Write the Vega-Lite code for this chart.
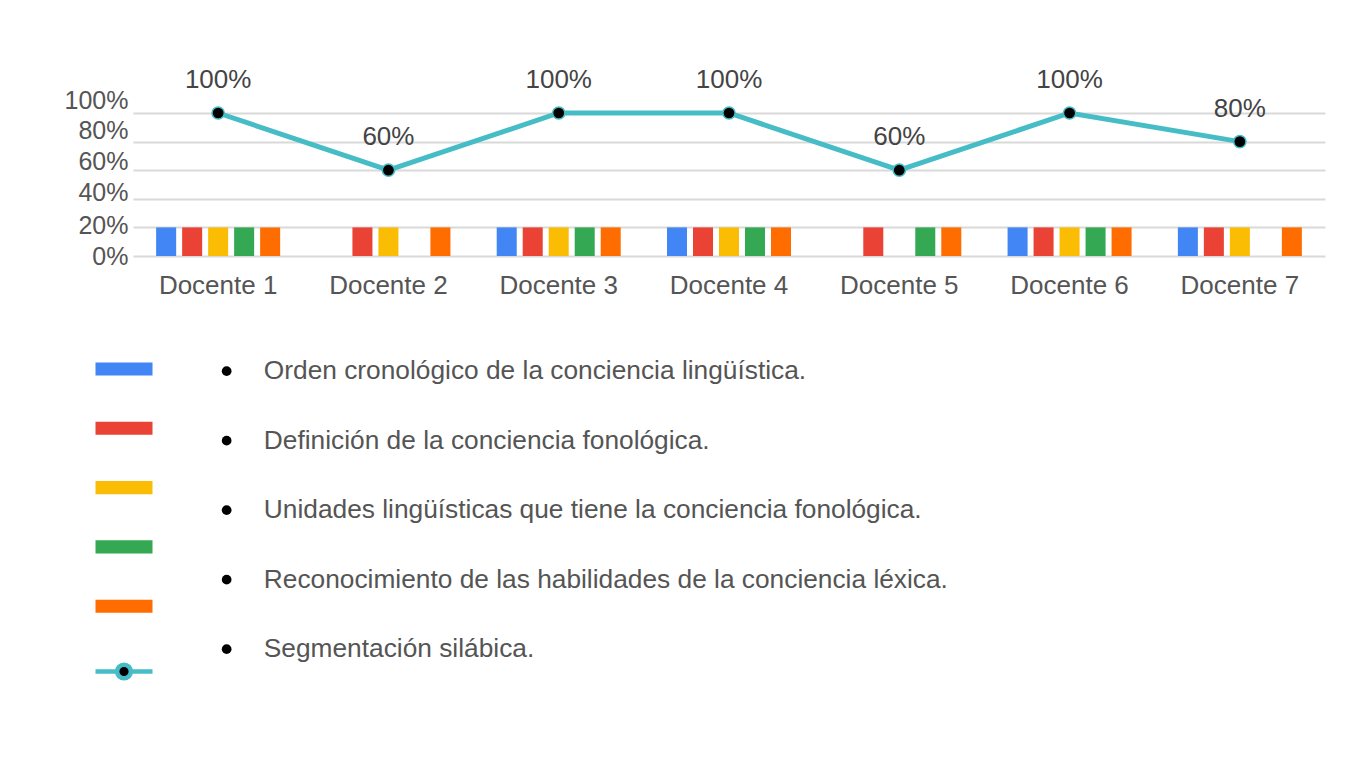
{
  "$schema": "https://vega.github.io/schema/vega-lite/v6.json",
  "width": 1192,
  "height": 143,
  "autosize": {"type": "none"},
  "padding": {"left": 133, "top": 113, "right": 26, "bottom": 507},
  "background": "white",
  "config": {
    "font": "Liberation Sans",
    "view": {"stroke": null}
  },
  "datasets": {
    "barras": [
      {"docente": "Docente 1", "criterio": "Orden cronológico de la conciencia lingüística.", "valor": 0.2},
      {"docente": "Docente 1", "criterio": "Definición de la conciencia fonológica.", "valor": 0.2},
      {"docente": "Docente 1", "criterio": "Unidades lingüísticas que tiene la conciencia fonológica.", "valor": 0.2},
      {"docente": "Docente 1", "criterio": "Reconocimiento de las habilidades de la conciencia léxica.", "valor": 0.2},
      {"docente": "Docente 1", "criterio": "Segmentación silábica.", "valor": 0.2},
      {"docente": "Docente 2", "criterio": "Definición de la conciencia fonológica.", "valor": 0.2},
      {"docente": "Docente 2", "criterio": "Unidades lingüísticas que tiene la conciencia fonológica.", "valor": 0.2},
      {"docente": "Docente 2", "criterio": "Segmentación silábica.", "valor": 0.2},
      {"docente": "Docente 3", "criterio": "Orden cronológico de la conciencia lingüística.", "valor": 0.2},
      {"docente": "Docente 3", "criterio": "Definición de la conciencia fonológica.", "valor": 0.2},
      {"docente": "Docente 3", "criterio": "Unidades lingüísticas que tiene la conciencia fonológica.", "valor": 0.2},
      {"docente": "Docente 3", "criterio": "Reconocimiento de las habilidades de la conciencia léxica.", "valor": 0.2},
      {"docente": "Docente 3", "criterio": "Segmentación silábica.", "valor": 0.2},
      {"docente": "Docente 4", "criterio": "Orden cronológico de la conciencia lingüística.", "valor": 0.2},
      {"docente": "Docente 4", "criterio": "Definición de la conciencia fonológica.", "valor": 0.2},
      {"docente": "Docente 4", "criterio": "Unidades lingüísticas que tiene la conciencia fonológica.", "valor": 0.2},
      {"docente": "Docente 4", "criterio": "Reconocimiento de las habilidades de la conciencia léxica.", "valor": 0.2},
      {"docente": "Docente 4", "criterio": "Segmentación silábica.", "valor": 0.2},
      {"docente": "Docente 5", "criterio": "Definición de la conciencia fonológica.", "valor": 0.2},
      {"docente": "Docente 5", "criterio": "Reconocimiento de las habilidades de la conciencia léxica.", "valor": 0.2},
      {"docente": "Docente 5", "criterio": "Segmentación silábica.", "valor": 0.2},
      {"docente": "Docente 6", "criterio": "Orden cronológico de la conciencia lingüística.", "valor": 0.2},
      {"docente": "Docente 6", "criterio": "Definición de la conciencia fonológica.", "valor": 0.2},
      {"docente": "Docente 6", "criterio": "Unidades lingüísticas que tiene la conciencia fonológica.", "valor": 0.2},
      {"docente": "Docente 6", "criterio": "Reconocimiento de las habilidades de la conciencia léxica.", "valor": 0.2},
      {"docente": "Docente 6", "criterio": "Segmentación silábica.", "valor": 0.2},
      {"docente": "Docente 7", "criterio": "Orden cronológico de la conciencia lingüística.", "valor": 0.2},
      {"docente": "Docente 7", "criterio": "Definición de la conciencia fonológica.", "valor": 0.2},
      {"docente": "Docente 7", "criterio": "Unidades lingüísticas que tiene la conciencia fonológica.", "valor": 0.2},
      {"docente": "Docente 7", "criterio": "Segmentación silábica.", "valor": 0.2}
    ],
    "linea": [
      {"docente": "Docente 1", "valor": 1.0},
      {"docente": "Docente 2", "valor": 0.6},
      {"docente": "Docente 3", "valor": 1.0},
      {"docente": "Docente 4", "valor": 1.0},
      {"docente": "Docente 5", "valor": 0.6},
      {"docente": "Docente 6", "valor": 1.0},
      {"docente": "Docente 7", "valor": 0.8}
    ]
  },
  "encoding": {
    "x": {
      "field": "docente",
      "type": "nominal",
      "sort": ["Docente 1", "Docente 2", "Docente 3", "Docente 4", "Docente 5", "Docente 6", "Docente 7"],
      "scale": {"paddingInner": 0, "paddingOuter": 0},
      "axis": {
        "title": null,
        "labelAngle": 0,
        "labelFontSize": 26,
        "labelColor": "#555555",
        "labelPadding": 16,
        "domain": false,
        "ticks": false,
        "grid": false
      }
    },
    "y": {
      "field": "valor",
      "type": "quantitative",
      "scale": {"domain": [0, 1]},
      "axis": {
        "title": null,
        "values": [0, 0.2, 0.4, 0.6, 0.8, 1],
        "format": ".0%",
        "labelFontSize": 25,
        "labelColor": "#555555",
        "labelPadding": 5,
        "domain": false,
        "ticks": false,
        "gridColor": "#d9d9d9",
        "gridWidth": 2,
        "labelOffset": {
          "condition": [
            {"test": "datum.value >= 0.99", "value": -13},
            {"test": "datum.value >= 0.79", "value": -11},
            {"test": "datum.value >= 0.59", "value": -9},
            {"test": "datum.value >= 0.39", "value": -6},
            {"test": "datum.value >= 0.19", "value": -2}
          ],
          "value": 0
        }
      }
    }
  },
  "layer": [
    {
      "data": {"name": "barras"},
      "mark": {"type": "bar"},
      "encoding": {
        "xOffset": {
          "field": "criterio",
          "type": "nominal",
          "scale": {
            "domain": [
              "Orden cronológico de la conciencia lingüística.",
              "Definición de la conciencia fonológica.",
              "Unidades lingüísticas que tiene la conciencia fonológica.",
              "Reconocimiento de las habilidades de la conciencia léxica.",
              "Segmentación silábica."
            ],
            "paddingInner": 0.23,
            "paddingOuter": 0.89
          }
        },
        "color": {
          "field": "criterio",
          "type": "nominal",
          "scale": {
            "domain": [
              "Orden cronológico de la conciencia lingüística.",
              "Definición de la conciencia fonológica.",
              "Unidades lingüísticas que tiene la conciencia fonológica.",
              "Reconocimiento de las habilidades de la conciencia léxica.",
              "Segmentación silábica.",
              "Total"
            ],
            "range": ["#4285F4", "#EA4335", "#FBBC04", "#34A853", "#FF6D01", "#000000"]
          },
          "legend": {
            "orient": "none",
            "legendX": -14,
            "legendY": 251,
            "direction": "vertical",
            "title": null,
            "padding": 0,
            "rowPadding": 39.3,
            "symbolSize": 3249,
            "symbolType": "M-1,-0.23H1V0.23H-1Z",
            "symbolStrokeWidth": 0,
            "labelExpr": "''",
            "labelOffset": 0,
            "encode": {
              "symbols": {
                "update": {
                  "shape": {"signal": "datum.value === 'Total' ? 'M-1,0H-0.26M0.26,0H1M0.24,0A0.24,0.24 0 1,1 -0.24,0A0.24,0.24 0 1,1 0.24,0Z' : 'M-1,-0.23H1V0.23H-1ZM-1,-0.34L-1,-0.34M-1,0.34L-1,0.34'"},
                  "stroke": {"signal": "datum.value === 'Total' ? '#46BDC6' : 'transparent'"},
                  "strokeWidth": {"signal": "datum.value === 'Total' ? 4.5 : 0"},
                  "opacity": {"value": 1}
                }
              }
            }
          }
        },
        "opacity": {
          "field": "criterio",
          "type": "ordinal",
          "scale": {
            "domain": [
              "Orden cronológico de la conciencia lingüística.",
              "Definición de la conciencia fonológica.",
              "Unidades lingüísticas que tiene la conciencia fonológica.",
              "Reconocimiento de las habilidades de la conciencia léxica.",
              "Segmentación silábica."
            ],
            "range": [1, 1, 1, 1, 1]
          },
          "legend": {
            "orient": "none",
            "legendX": 80.5,
            "legendY": 245,
            "direction": "vertical",
            "title": null,
            "padding": 0,
            "rowPadding": 42.5,
            "symbolType": "circle",
            "symbolSize": 95,
            "symbolFillColor": "#000000",
            "symbolStrokeWidth": 0,
            "labelFontSize": 26.3,
            "labelColor": "#555555",
            "labelOffset": 24,
            "labelLimit": 1000,
            "encode": {
              "symbols": {
                "update": {
                  "fill": {"value": "#000000"},
                  "opacity": {"value": 1},
                  "shape": {"value": "circle"}
                }
              }
            }
          }
        }
      }
    },
    {
      "data": {"name": "linea"},
      "mark": {"type": "line", "color": "#46BDC6", "strokeWidth": 5},
      "encoding": {}
    },
    {
      "data": {"name": "linea"},
      "mark": {"type": "point", "filled": true, "fill": "#000000", "stroke": "#46BDC6", "strokeWidth": 1.5, "size": 150, "opacity": 1},
      "encoding": {}
    },
    {
      "data": {"name": "linea"},
      "mark": {"type": "text", "dy": -33, "fontSize": 26, "color": "#444444", "baseline": "middle"},
      "encoding": {
        "text": {"field": "valor", "type": "quantitative", "format": ".0%"}
      }
    }
  ]
}
